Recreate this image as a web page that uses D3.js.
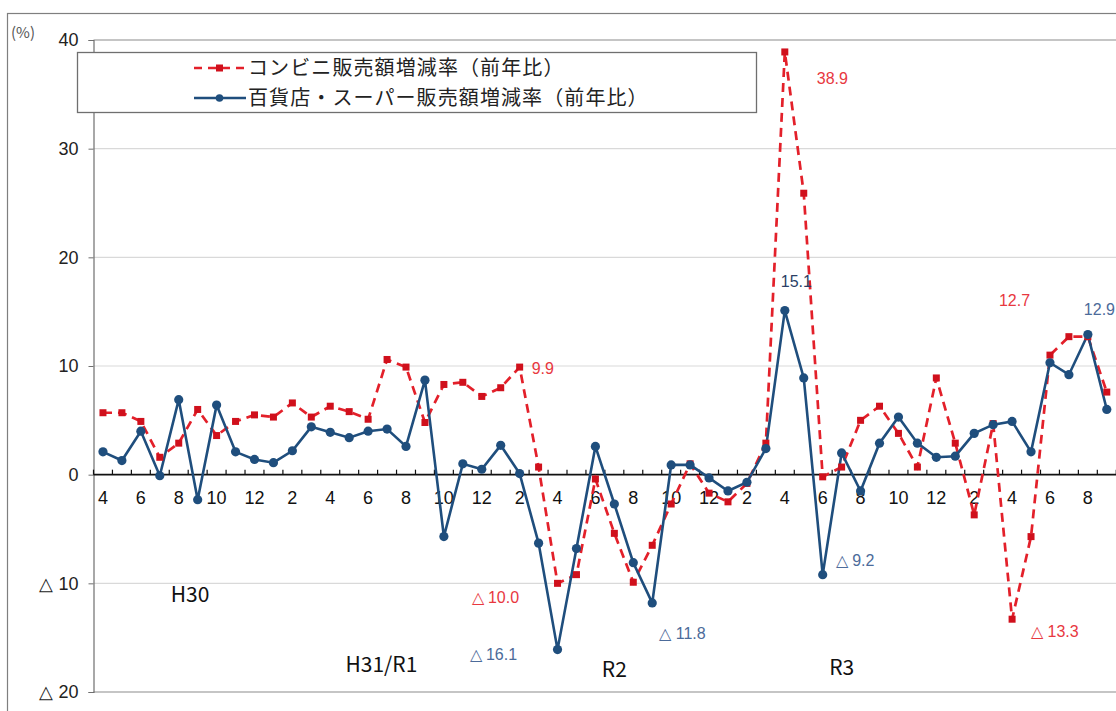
<!DOCTYPE html>
<html>
<head>
<meta charset="utf-8">
<script src="https://cdn.jsdelivr.net/npm/d3@7"></script>
<style>
  html, body { margin: 0; padding: 0; background: #fff; }
  svg { display: block; }
  .num { font-family: "Liberation Sans", Arial, sans-serif; }
  .jp { font-family: "Noto Sans CJK JP", "Noto Sans", sans-serif; }
</style>
</head>
<body>
<svg id="chart" width="1116" height="711"></svg>
<script>
// Month labels for every category (Apr 2018 – Sep 2022); only every other one is shown
const months = [4,5,6,7,8,9,10,11,12,1,2,3,
                4,5,6,7,8,9,10,11,12,1,2,3,
                4,5,6,7,8,9,10,11,12,1,2,3,
                4,5,6,7,8,9,10,11,12,1,2,3,
                4,5,6,7,8,9];

// コンビニ販売額増減率（前年比）, %
const convenience = [5.7,5.7,4.9,1.6,2.9,6.0,3.6,4.9,5.5,5.3,6.6,5.3,
                     6.3,5.8,5.1,10.6,9.9,4.8,8.3,8.5,7.2,8.0,9.9,0.7,
                     -10.0,-9.2,-0.4,-5.4,-9.9,-6.5,-2.7,1.0,-1.7,-2.5,-0.8,2.9,
                     38.9,25.9,-0.2,0.7,5.0,6.3,3.8,0.7,8.9,2.9,-3.7,4.7,
                     -13.3,-5.7,11.0,12.7,12.7,7.6];

// 百貨店・スーパー販売額増減率（前年比）, %
const deptSuper = [2.1,1.3,4.0,-0.1,6.9,-2.3,6.4,2.1,1.4,1.1,2.2,4.4,
                   3.9,3.4,4.0,4.2,2.6,8.7,-5.7,1.0,0.5,2.7,0.1,-6.3,
                   -16.1,-6.8,2.6,-2.7,-8.1,-11.8,0.9,0.9,-0.3,-1.5,-0.7,2.4,
                   15.1,8.9,-9.2,2.0,-1.5,2.9,5.3,2.9,1.6,1.7,3.8,4.6,
                   4.9,2.1,10.3,9.2,12.9,6.0];

const yTicks = [40, 30, 20, 10, 0, -10, -20];
// negative values are written with a leading triangle
const fmtTick = v => v < 0 ? "△ " + (-v) : String(v);
const fmtValue = v => v < 0 ? "△ " + (-v).toFixed(1) : v.toFixed(1);

// Era labels: [category offset, vertical value, text]
const eras = [[4.6, -11.7, "H30"], [14.7, -18.2, "H31/R1"], [27, -18.6, "R2"], [39, -18.4, "R3"]];

// Value callouts: [series, category index, value, dx, dy]
const callouts = [
  ["c", 36, 38.9, 32, 32],
  ["d", 36, 15.1, -4, -24],
  ["c", 51, 12.7, -70, -31],
  ["d", 52, 12.9, -4, -19],
  ["c", 22, 9.9, 12, 7],
  ["c", 24, -10.0, -86, 20],
  ["d", 24, -16.1, -88, 10],
  ["d", 29, -11.8, 7, 36],
  ["d", 38, -9.2, 13, -9],
  ["c", 48, -13.3, 19, 18]
];

const svg = d3.select("#chart");
const RED = "#e3202a", RED_TXT = "#e8383f";
const BLUE = "#1f4e7d", BLUE_TXT = "#4c6b9a", NAVY_TXT = "#2b3f66";

const plot = { left: 93.5, top: 40, bottom: 692 };
const x = d3.scaleBand().domain(d3.range(months.length))
  .range([plot.left, plot.left + months.length * 18.94]).padding(0);
const cx = i => x(i) + x.bandwidth() / 2;
const y = d3.scaleLinear().domain([-20, 40]).range([plot.bottom, plot.top]);

// outer frame
svg.append("rect").attr("x", 7.5).attr("y", 13.5).attr("width", 1200).attr("height", 800)
  .attr("fill", "none").attr("stroke", "#7f7f7f").attr("stroke-width", 1.2);

// horizontal grid
svg.append("g").selectAll("line").data([30, 20, 10, -10]).join("line")
  .attr("x1", plot.left).attr("x2", 1116)
  .attr("y1", d => y(d)).attr("y2", d => y(d))
  .attr("stroke", "#d9d9d9").attr("stroke-width", 1.2);
[40, -20].forEach(v => svg.append("line").attr("x1", plot.left).attr("x2", 1116)
  .attr("y1", y(v)).attr("y2", y(v)).attr("stroke", "#8c8c8c").attr("stroke-width", 1.2));

// y axis
const yAxis = svg.append("g").attr("transform", `translate(${plot.left},0)`)
  .call(d3.axisLeft(y).tickValues(yTicks).tickSize(5).tickPadding(10).tickFormat(fmtTick));
yAxis.select(".domain").attr("stroke", "#6f6f6f").attr("stroke-width", 1.2);
yAxis.selectAll(".tick line").attr("stroke", "#6f6f6f");
yAxis.selectAll("text").attr("class", "num").style("font-size", "18px").attr("fill", "#222");

svg.append("text").attr("class", "jp").attr("x", 11).attr("y", 38)
  .style("font-size", "15px").attr("fill", "#555").text("(%)");

// zero axis with month ticks
svg.append("line").attr("x1", plot.left).attr("x2", 1116).attr("y1", y(0)).attr("y2", y(0))
  .attr("stroke", "#111").attr("stroke-width", 1.6);
svg.append("g").selectAll("line").data(d3.range(months.length + 1)).join("line")
  .attr("x1", i => plot.left + i * x.step()).attr("x2", i => plot.left + i * x.step())
  .attr("y1", y(0)).attr("y2", y(0) - 5)
  .attr("stroke", "#111").attr("stroke-width", 1.2);
svg.append("g").selectAll("text").data(d3.range(0, months.length, 2)).join("text")
  .attr("class", "num").attr("x", i => cx(i)).attr("y", y(0) + 29)
  .attr("text-anchor", "middle").style("font-size", "18px").attr("fill", "#111")
  .text(i => months[i]);

// era labels
svg.append("g").selectAll("text").data(eras).join("text")
  .attr("class", "jp").attr("x", d => cx(0) + d[0] * x.step()).attr("y", d => y(d[1]))
  .attr("text-anchor", "middle").style("font-size", "21px").attr("fill", "#111")
  .text(d => d[2]);

// series lines
const line = d3.line().x((d, i) => cx(i)).y(d => y(d));
svg.append("path").datum(convenience).attr("d", line)
  .attr("fill", "none").attr("stroke", RED).attr("stroke-width", 2.7)
  .attr("stroke-dasharray", "9,6");
svg.append("path").datum(deptSuper).attr("d", line)
  .attr("fill", "none").attr("stroke", BLUE).attr("stroke-width", 2.6);

svg.append("g").selectAll("rect").data(convenience).join("rect")
  .attr("x", (d, i) => cx(i) - 3.5).attr("y", d => y(d) - 3.5)
  .attr("width", 7).attr("height", 7).attr("fill", "#d0101c");
svg.append("g").selectAll("circle").data(deptSuper).join("circle")
  .attr("cx", (d, i) => cx(i)).attr("cy", d => y(d)).attr("r", 4.6)
  .attr("fill", BLUE);

// value callouts
const calloutLayer = svg.append("g");
calloutLayer.selectAll("text").data(callouts).join("text")
  .attr("class", "num")
  .attr("x", d => cx(d[1]) + d[3]).attr("y", d => y(d[2]) + d[4])
  .style("font-size", "16px")
  .attr("fill", d => d[0] === "c" ? RED_TXT : (d[1] === 36 ? NAVY_TXT : BLUE_TXT))
  .text(d => fmtValue(d[2]));

// legend
const lg = svg.append("g");
lg.append("rect").attr("x", 77.5).attr("y", 52.5).attr("width", 679).attr("height", 60)
  .attr("fill", "#fff").attr("stroke", "#6f6f6f").attr("stroke-width", 1.3);
const legendRows = [
  { name: "コンビニ販売額増減率（前年比）", color: RED, dash: "8,6", y: 68, mark: "rect" },
  { name: "百貨店・スーパー販売額増減率（前年比）", color: BLUE, dash: null, y: 98, mark: "circle" }
];
legendRows.forEach(r => {
  lg.append("line").attr("x1", 194).attr("x2", 246).attr("y1", r.y).attr("y2", r.y)
    .attr("stroke", r.color).attr("stroke-width", 2.4)
    .attr("stroke-dasharray", r.dash);
  if (r.mark === "rect") {
    lg.append("rect").attr("x", 216).attr("y", r.y - 3.5).attr("width", 7).attr("height", 7).attr("fill", "#d0101c");
  } else {
    lg.append("circle").attr("cx", 219.5).attr("cy", r.y).attr("r", 3.8).attr("fill", r.color);
  }
  lg.append("text").attr("class", "jp").attr("x", 248).attr("y", r.y + 7)
    .style("font-size", "20px").attr("letter-spacing", 1.1).attr("fill", "#222").text(r.name);
});
</script>
</body>
</html>
